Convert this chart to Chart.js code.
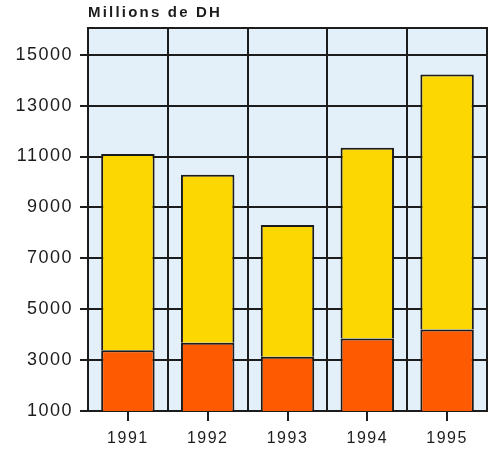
<!DOCTYPE html>
<html>
<head>
<meta charset="utf-8">
<script src="https://cdn.jsdelivr.net/npm/chart.js@4"></script>
<style>
    html, body { margin: 0; padding: 0; background: #ffffff; }
    #wrap { width: 495px; height: 449px; }
</style>
</head>
<body>
<div id="wrap"><canvas id="barChart" width="495" height="449"></canvas></div>
<script>
// Données (millions de DH)
const years = ['1991', '1992', '1993', '1994', '1995'];
const baseValues = [3390, 3680, 3130, 3850, 4200];      // partie orange
const totalValues = [11100, 10280, 8310, 11340, 14220]; // hauteur totale des barres
const topValues = totalValues.map((t, i) => t - baseValues[i]); // partie jaune
const yTicks = [1000, 3000, 5000, 7000, 9000, 11000, 13000, 15000];
const unitLabel = 'Millions de DH';

const ink = '#1c1c1c';

// fond bleu clair + titre en haut à gauche
const decorPlugin = {
    id: 'decor',
    beforeDraw(chart) {
        const { ctx, chartArea } = chart;
        ctx.save();
        ctx.fillStyle = '#e4f0f9';
        ctx.fillRect(chartArea.left, chartArea.top, chartArea.right - chartArea.left, chartArea.bottom - chartArea.top);
        ctx.restore();
        ctx.letterSpacing = '1.5px';
    },
    afterDraw(chart) {
        const { ctx, chartArea } = chart;
        ctx.save();
        ctx.letterSpacing = '2.2px';
        ctx.fillStyle = ink;
        ctx.font = 'bold 15px "Liberation Sans", Arial, sans-serif';
        ctx.textAlign = 'left';
        ctx.textBaseline = 'middle';
        ctx.fillText(unitLabel, chartArea.left, 13);
        ctx.restore();
        ctx.letterSpacing = '0px';
    }
};

const ctx = document.getElementById('barChart').getContext('2d');

new Chart(ctx, {
    type: 'bar',
    data: {
        labels: years,
        datasets: [{
            label: 'base',
            data: baseValues,
            backgroundColor: '#fe5a02',
            borderColor: ink,
            borderWidth: 2,
            borderSkipped: false
        }, {
            label: 'total',
            data: topValues,
            backgroundColor: '#fdd702',
            borderColor: ink,
            borderWidth: 2,
            borderSkipped: 'start'
        }]
    },
    options: {
        responsive: false,
        animation: false,
        barPercentage: 0.67,
        categoryPercentage: 1,
        layout: { padding: { top: 28, right: 8, left: 0, bottom: 0 } },
        scales: {
            x: {
                stacked: true,
                position: 'bottom',
                offset: true,
                grid: { offset: false, drawOnChartArea: false, color: ink, lineWidth: 2, tickLength: 10 },
                border: { display: true, color: ink, width: 2 },
                ticks: { color: ink, padding: 8, font: { size: 16, family: '"Liberation Sans", Arial, sans-serif' } },
                afterFit(scale) { scale.height = 38; }
            },
            x2: {
                type: 'category',
                position: 'top',
                offset: true,
                grid: { offset: true, drawOnChartArea: true, drawTicks: false, color: ink, lineWidth: 2 },
                border: { display: true, color: ink, width: 2 },
                ticks: { display: false },
                afterFit(scale) { scale.height = 0; }
            },
            y: {
                stacked: true,
                min: 1000,
                max: 16050,
                afterBuildTicks(scale) {
                    scale.ticks = yTicks.map(v => ({ value: v }));
                },
                grid: { color: ink, lineWidth: 2, tickLength: 8 },
                border: { display: true, color: ink, width: 2 },
                ticks: {
                    color: ink,
                    padding: 7,
                    font: { size: 18, family: '"Liberation Sans", Arial, sans-serif' },
                    callback: value => String(value)
                },
                afterFit(scale) { scale.width = 88; }
            }
        },
        plugins: {
            legend: { display: false },
            tooltip: { enabled: false },
            title: { display: false }
        }
    },
    plugins: [decorPlugin]
});
</script>
</body>
</html>
